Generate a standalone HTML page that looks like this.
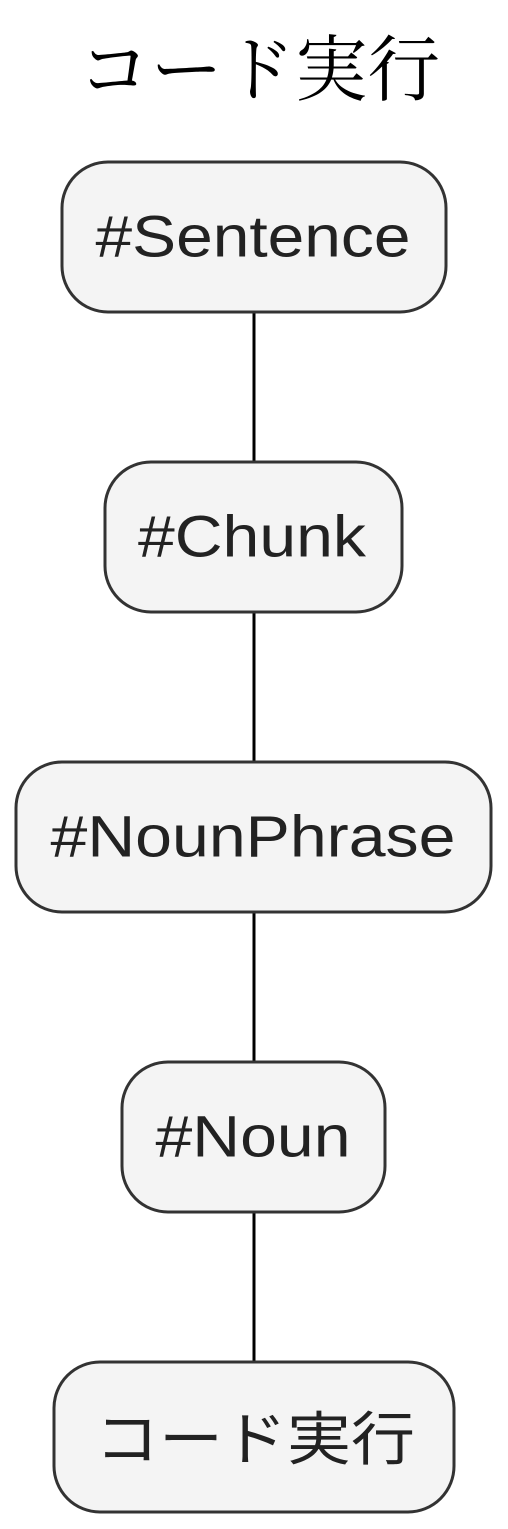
<!DOCTYPE html>
<html><head><meta charset="utf-8"><style>
html,body{margin:0;padding:0;background:#fff;}
svg{display:block;}
.n{fill:#f4f4f4;stroke:#333;stroke-width:3;}
.t{font-family:"Liberation Sans","Noto Sans CJK JP",sans-serif;font-size:58px;fill:#222;text-anchor:middle;dominant-baseline:central;}
</style></head><body>
<svg width="508" height="1529" viewBox="0 0 508 1529">
<text x="259" y="64" text-anchor="middle" dominant-baseline="central" textLength="362" lengthAdjust="spacingAndGlyphs" style="font-family:'Noto Serif CJK JP','Noto Serif CJK SC',serif;font-size:72px;fill:#000;">コード実行</text>
<g stroke="#000" stroke-width="3">
<line x1="254" y1="312" x2="254" y2="462"/>
<line x1="254" y1="612" x2="254" y2="762"/>
<line x1="254" y1="912" x2="254" y2="1062"/>
<line x1="254" y1="1212" x2="254" y2="1362"/>
</g>
<rect class="n" x="62" y="162" width="384" height="150" rx="46"/>
<text class="t" x="253" y="237" textLength="315" lengthAdjust="spacingAndGlyphs">#Sentence</text>
<rect class="n" x="105" y="462" width="297" height="150" rx="46"/>
<text class="t" x="252" y="537" textLength="228" lengthAdjust="spacingAndGlyphs">#Chunk</text>
<rect class="n" x="16" y="762" width="475" height="150" rx="46"/>
<text class="t" x="253" y="837" textLength="405" lengthAdjust="spacingAndGlyphs">#NounPhrase</text>
<rect class="n" x="122" y="1062" width="263" height="150" rx="46"/>
<text class="t" x="253" y="1137" textLength="195" lengthAdjust="spacingAndGlyphs">#Noun</text>
<rect class="n" x="54" y="1362" width="400" height="150" rx="46"/>
<text class="t" x="255" y="1440" textLength="320" lengthAdjust="spacingAndGlyphs">コード実行</text>
</svg>
</body></html>
